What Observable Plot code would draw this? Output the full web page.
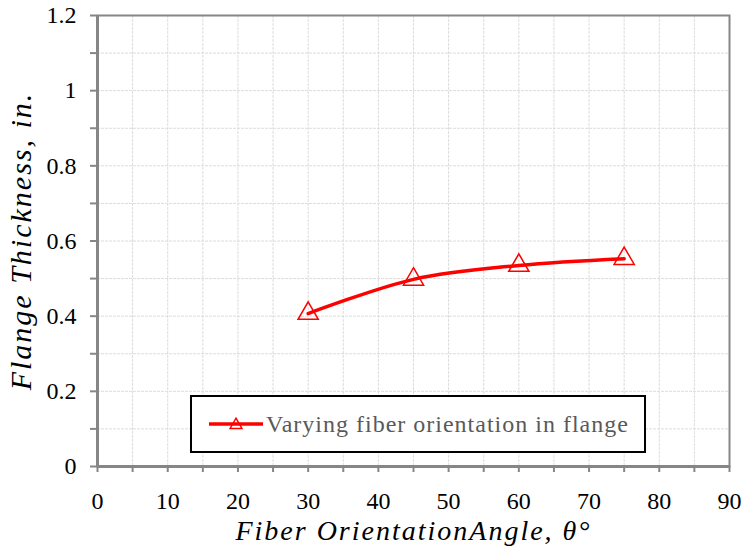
<!DOCTYPE html>
<html>
<head>
<meta charset="utf-8">
<script src="https://cdn.jsdelivr.net/npm/d3@7"></script>
<script src="https://cdn.jsdelivr.net/npm/@observablehq/plot@0.6"></script>
<style>
  html, body { margin: 0; padding: 0; background: #fff; }
  #wrap { position: relative; width: 743px; height: 550px; overflow: hidden; }
  #wrap svg text { font-family: 'Liberation Serif', 'DejaVu Serif', serif; }
  #wrap svg g[aria-label="text"] text { letter-spacing: 2px; }
  #legend {
    position: absolute; left: 190px; top: 395px; width: 452px; height: 54px;
    border: 2.5px solid #000; background: #fff; box-sizing: content-box;
    font-family: 'Liberation Serif', 'DejaVu Serif', serif; font-size: 24px; letter-spacing: 1px; color: #595959;
    display: flex; align-items: center;
  }
  #legend svg { margin-left: 17px; margin-right: 3px; }
</style>
</head>
<body>
<div id="wrap"></div>
<script>
// ---- data ----
const angles = [30, 45, 60, 75];
const thickness = [0.407, 0.498, 0.535, 0.553];
const seriesName = "Varying fiber orientation in flange";
const xTicks = [0, 10, 20, 30, 40, 50, 60, 70, 80, 90];
const xMinorTicks = [0, 5, 10, 15, 20, 25, 30, 35, 40, 45, 50, 55, 60, 65, 70, 75, 80, 85, 90];
const yTicks = [0, 0.2, 0.4, 0.6, 0.8, 1.0, 1.2];
const yTickLabels = ["0", "0.2", "0.4", "0.6", "0.8", "1", "1.2"];
const yMinorTicks = [0, 0.1, 0.2, 0.3, 0.4, 0.5, 0.6, 0.7, 0.8, 0.9, 1.0, 1.1, 1.2];
const xLabel = "Fiber OrientationAngle, θ°";
const yLabel = "Flange Thickness, in.";

const data = angles.map((a, i) => ({angle: a, t: thickness[i]}));
const axisColor = "#868686";
const serif = "'Liberation Serif', 'DejaVu Serif', serif";

const chart = Plot.plot({
  width: 743,
  height: 550,
  marginLeft: 97,
  marginRight: 14,
  marginTop: 15,
  marginBottom: 84,
  style: {fontFamily: serif, fontSize: "24px", color: "#000", background: "#fff"},
  x: {domain: [0, 90]},
  y: {domain: [0, 1.2]},
  marks: [
    Plot.gridX(xMinorTicks, {stroke: "#dcdcdc", strokeOpacity: 1, strokeWidth: 1, strokeDasharray: "3,1"}),
    Plot.gridY(yMinorTicks, {stroke: "#dcdcdc", strokeOpacity: 1, strokeWidth: 1, strokeDasharray: "3,1"}),
    Plot.frame({stroke: axisColor, strokeWidth: 2}),
    Plot.ruleX([0], {stroke: axisColor, strokeWidth: 3}),
    Plot.ruleY([0], {stroke: axisColor, strokeWidth: 3}),
    Plot.axisX(xMinorTicks, {tickSize: 6, stroke: axisColor, strokeWidth: 2, tickFormat: () => "", label: null}),
    Plot.axisX(xTicks, {tickSize: 0, tickPadding: 25, fill: "#000", fontSize: 24, fontFamily: serif, label: null, tickFormat: d => String(d)}),
    Plot.axisY(yMinorTicks, {tickSize: 7, stroke: axisColor, strokeWidth: 2, tickFormat: () => "", label: null}),
    Plot.axisY(yTicks, {tickSize: 0, tickPadding: 21, fill: "#000", fontSize: 24, fontFamily: serif, label: null,
      tickFormat: d => yTickLabels[yTicks.indexOf(d)]}),
    Plot.line(data, {x: "angle", y: "t", stroke: "#ff0000", strokeWidth: 3.5, curve: "catmull-rom"}),
    Plot.dot(data, {x: "angle", y: "t", symbol: "triangle", r: 7.5, stroke: "#ff0000", fill: "none", strokeWidth: 1.5}),
    Plot.text([xLabel], {frameAnchor: "bottom", textAnchor: "middle", dy: 73, fontSize: 28, fontFamily: serif, fontStyle: "italic", fill: "#000", text: d => d}),
    Plot.text([yLabel], {frameAnchor: "left", textAnchor: "middle", dx: -76, dy: 0, rotate: -90, fontSize: 30, fontFamily: serif, fontStyle: "italic", fill: "#000", text: d => d})
  ]
});

const wrap = document.getElementById("wrap");
wrap.appendChild(chart);

// legend overlay
const legend = document.createElement("div");
legend.id = "legend";
const ns = "http://www.w3.org/2000/svg";
const svg = document.createElementNS(ns, "svg");
svg.setAttribute("width", 54);
svg.setAttribute("height", 20);
const ln = document.createElementNS(ns, "line");
ln.setAttribute("x1", 0); ln.setAttribute("x2", 54); ln.setAttribute("y1", 10); ln.setAttribute("y2", 10);
ln.setAttribute("stroke", "#ff0000"); ln.setAttribute("stroke-width", 3.5);
svg.appendChild(ln);
const tri = document.createElementNS(ns, "path");
tri.setAttribute("d", d3.symbol(d3.symbolTriangle, 60)());
tri.setAttribute("transform", "translate(27,11)");
tri.setAttribute("fill", "none"); tri.setAttribute("stroke", "#ff0000"); tri.setAttribute("stroke-width", 1.5);
svg.appendChild(tri);
legend.appendChild(svg);
const span = document.createElement("span");
span.textContent = seriesName;
legend.appendChild(span);
wrap.appendChild(legend);
</script>
</body>
</html>
